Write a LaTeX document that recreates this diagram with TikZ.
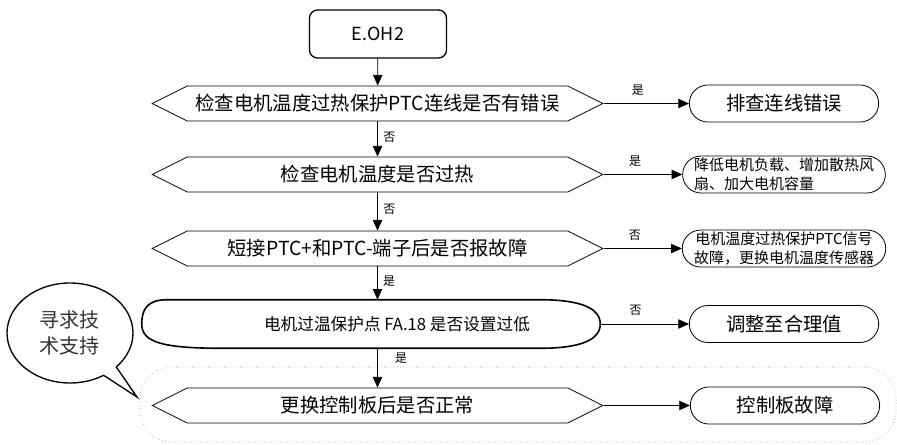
\documentclass[tikz,border=0pt]{standalone}
\usepackage{fontspec}
\setmainfont{Noto Sans CJK SC}
\usetikzlibrary{positioning,arrows.meta,calc,shapes.symbols,shapes.misc,shapes.callouts}

\begin{document}
\begin{tikzpicture}[x=0.75pt,y=-0.75pt,
   hexbox/.style={signal,signal to=west and east,signal pointer angle=53,draw,line width=0.6pt,
     minimum width=338pt,minimum height=26.25pt,inner sep=0pt,font=\fontsize{14.5}{17}\selectfont},
   endbox/.style={rounded rectangle,draw,line width=0.6pt,minimum width=144pt,minimum height=27.75pt,
     inner sep=1pt,font=\fontsize{14.5}{17}\selectfont},
   smallend/.style={endbox,font=\fontsize{11.25}{14.25}\selectfont},
   ellbox/.style={minimum width=343.5pt,minimum height=36pt,inner sep=0pt},
   flow/.style={line width=0.6pt,-{Triangle[length=8pt,width=7pt]}},
   yesno/.style={font=\fontsize{9}{10}\selectfont,inner sep=1pt}]
 \useasboundingbox (0,0) rectangle (897,444);
 % dotted frame round the last check
 \draw[dotted,gray,rounded corners=24pt] (140,367) rectangle (896,442);
 % main column
 \node[draw,line width=1pt,rounded corners=6pt,minimum width=102.75pt,minimum height=36pt,
   font=\fontsize{13.5}{16}\selectfont] (start) at (378,34) {E.OH2};
 \node[hexbox] (q1) at (377.5,103.5) {检查电机温度过热保护PTC连线是否有错误};
 \node[hexbox] (q2) at (377.5,174.5) {检查电机温度是否过热};
 \node[hexbox] (q3) at (377.5,248.5) {短接PTC+和PTC-端子后是否报故障};
 \node[ellbox] (q4) at (371,324) {};
 \node[font=\fontsize{12.5}{15}\selectfont] (q4t) at ($(q4)+(26,0)$) {电机过温保护点 FA.18 是否设置过低};
 \node[hexbox] (q5) at (377.5,405.5) {更换控制板后是否正常};
 % outline of the long oval
 \draw[line width=1.2pt] ($(q4.north west)+(25,0)$) -- ($(q4.north east)+(-60,0)$)
   .. controls +(40,0) and +(0,-16) .. (q4.east)
   .. controls +(0,16) and +(40,0) .. ($(q4.south east)+(-60,0)$)
   -- ($(q4.south west)+(80,0)$)
   .. controls +(-60,0) and +(0,18) .. (q4.west)
   .. controls +(0,-14) and +(-20,0) .. ($(q4.north west)+(25,0)$) -- cycle;
 % results
 \node[endbox] (r1) at (784,103.5) {排查连线错误};
 \node[smallend,align=left] (r2) at (784,174.5) {降低电机负载、增加散热风\\扇、加大电机容量};
 \node[smallend,align=center] (r3) at (784,248.5) {电机温度过热保护PTC信号\\故障，更换电机温度传感器};
 \node[endbox] (r4) at (784,324) {调整至合理值};
 \node[endbox] (r5) at (785,405.5) {控制板故障};
 % callout
 \node[ellipse callout,draw,line width=1pt,minimum width=94.5pt,minimum height=75pt,
   callout absolute pointer={(137,397)},align=center,text=black!80,
   font=\fontsize{15}{20}\selectfont] (help) at (70,333) {寻求技\\术支持};
 % arrows down
 \draw[flow] (start) -- (q1);
 \draw[flow] (q1) -- node[yesno,right=3pt,pos=0.45]{否} (q2);
 \draw[flow] (q2) -- node[yesno,right=3pt,pos=0.45]{否} (q3);
 \draw[flow] (q3.south) -- node[yesno,right=3pt,pos=0.45]{是} (q3.south |- q4.north);
 \draw[flow] (q5.north |- q4.south) -- node[yesno,right=12pt,pos=0.25]{是} (q5.north);
 % arrows right
 \draw[flow] (q1.east) -- node[yesno,above=5pt,pos=0.4]{是} (r1.west);
 \draw[flow] (q2.east) -- node[yesno,above=5pt,pos=0.4]{是} (r2.west);
 \draw[flow] (q3.east) -- node[yesno,above=5pt,pos=0.4]{否} (r3.west);
 \draw[flow] (q4.east) -- node[yesno,above=5pt,pos=0.4]{否} (r4.west);
 \draw[flow] (q5.east) -- (r5.west);
\end{tikzpicture}
\end{document}
